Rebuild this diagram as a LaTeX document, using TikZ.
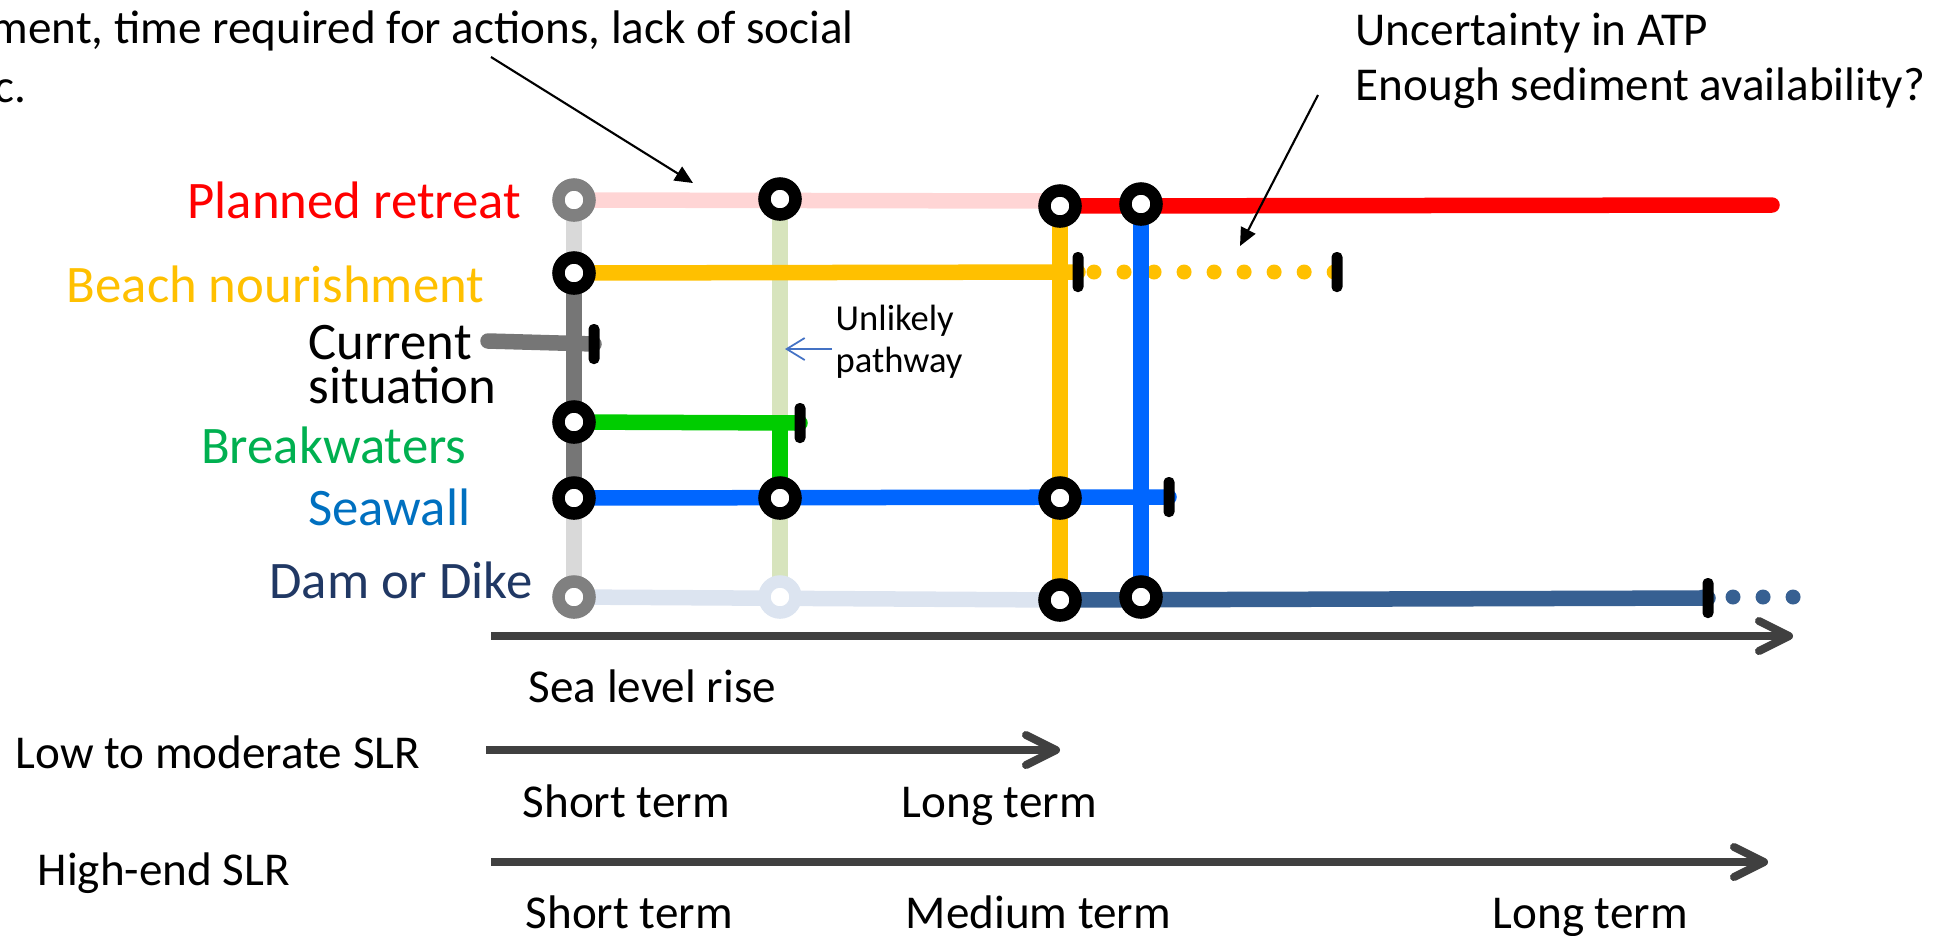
\documentclass[tikz,border=0pt]{standalone}
\usepackage{fontspec}
\setmainfont{Carlito}
\usetikzlibrary{arrows.meta,backgrounds}
\definecolor{retreatRed}{HTML}{FF0000}
\definecolor{pinkPale}{HTML}{FFD5D5}
\definecolor{nourishYellow}{HTML}{FFC000}
\definecolor{greyDark}{HTML}{767676}
\definecolor{greyPale}{HTML}{D9D9D9}
\definecolor{greyRing}{HTML}{808080}
\definecolor{bwGreen}{HTML}{00CC00}
\definecolor{bwText}{HTML}{00B050}
\definecolor{greenPale}{HTML}{D7E4BD}
\definecolor{swBlue}{HTML}{0066FF}
\definecolor{swText}{HTML}{0070C0}
\definecolor{damBlue}{HTML}{376092}
\definecolor{damPale}{HTML}{DCE4F0}
\definecolor{damText}{HTML}{203864}
\definecolor{axisGrey}{HTML}{404040}
\definecolor{hintBlue}{HTML}{4472C4}

\begin{document}
\begin{tikzpicture}[x=0.01cm, y=-0.01cm,
  station/.style={circle, draw=black, fill=white, line width=0.125cm, minimum size=0.31cm, inner sep=0pt},
  stopbar/.style={rectangle, fill=black, rounded corners=0.05cm, minimum width=0.11cm, minimum height=0.4cm, inner sep=0pt},
  track/.style={line width=0.155cm, line cap=round},
  dotline/.style={line width=0.15cm, line cap=round, dash pattern=on 0pt off 0.3cm},
  lane/.style={font=\fontsize{15}{18}\selectfont, inner sep=0pt, anchor=base east},
  txt/.style={font=\fontsize{13.4}{16}\selectfont, inner sep=0pt, anchor=base west},
  slr/.style={-{Straight Barb[length=3mm,width=3mm,round]}, line width=0.08cm, axisGrey},
  note/.style={-{Triangle[length=1.8mm,width=1.6mm]}, line width=0.6pt}]
\useasboundingbox (0,0) rectangle (1939,935);

% stations: columns at x = 574, 780, 1060, 1141
\node[station, draw=greyRing] (prA) at (574,200) {};
\node[station] (prB) at (780,199) {};
\node[station] (prC) at (1060,206) {};
\node[station] (prD) at (1141,204) {};
\node[station] (bnA) at (574,273) {};
\node[station] (bwA) at (574,422) {};
\node[station] (swA) at (574,498) {};
\node[station] (swB) at (780,498) {};
\node[station] (swC) at (1060,498) {};
\node[station, draw=greyRing] (ddA) at (574,597) {};
\node[station, draw=damPale] (ddB) at (780,597) {};
\node[station] (ddC) at (1060,600) {};
\node[station] (ddD) at (1141,597) {};

% end of a route
\node[stopbar] (bnStop) at (1078,272) {};
\node[stopbar] (bnEnd) at (1337,272) {};
\node[stopbar] (csStop) at (594,344) {};
\node[stopbar] (bwStop) at (800,423) {};
\node[stopbar] (swStop) at (1169,497) {};
\node[stopbar] (ddStop) at (1708,598) {};

\coordinate (csStart) at (488,341);
\coordinate (prEnd) at (1772,205);
\coordinate (prFade) at (1060,201);
\coordinate (bwB) at (780,424);
\coordinate (bnDots) at (1064,272);
\coordinate (ddDots) at (1703,597);
\coordinate (ddDotsEnd) at (1794,597);

\begin{scope}[on background layer]
  % faded segments
  \draw[track, pinkPale] (prA.center) -- (prFade);
  \draw[track, greyPale] (prA.center) -- (bnA.center);
  \draw[track, greyPale] (swA.center) -- (ddA.center);
  \draw[track, greenPale] (prB.center) -- (bwB);
  \draw[track, greenPale] (swB.center) -- (ddB.center);
  \draw[track, damPale] (ddA.center) -- (ddC.center);
  % routes
  \draw[track, greyDark] (bnA.center) -- (swA.center);
  \draw[track, greyDark] (csStart) -- (csStop.center);
  \draw[track, nourishYellow] (bnA.center) -- (bnStop.center);
  \draw[dotline, nourishYellow] (bnDots) -- (bnEnd.center);
  \draw[track, bwGreen] (bwA.center) -- (bwStop.center);
  \draw[track, bwGreen] (bwB) -- (swB.center);
  \draw[track, swBlue] (swA.center) -- (swStop.center);
  \draw[track, damBlue] (ddC.center) -- (ddStop.center);
  \draw[dotline, damBlue] (ddDots) -- (ddDotsEnd);
  \draw[track, retreatRed] (prC.center) -- (prEnd);
  \draw[track, nourishYellow] (prC.center) -- (ddC.center);
  \draw[track, swBlue] (prD.center) -- (ddD.center);
\end{scope}

% route names
\node[lane, text=retreatRed] (lblPr) at (522,218) {Planned retreat};
\node[lane, text=nourishYellow] (lblBn) at (485,302) {Beach nourishment};
\node[lane, anchor=base west] (lblCs1) at (308,359) {Current};
\node[lane, anchor=base west] (lblCs2) at (308,403) {situation};
\node[lane, text=bwText] (lblBw) at (467,463) {Breakwaters};
\node[lane, text=swText] (lblSw) at (471,525) {Seawall};
\node[lane, text=damText] (lblDd) at (533,598) {Dam or Dike};

% unlikely pathway hint
\node[txt, font=\fontsize{10.4}{12}\selectfont] (unl1) at (835,330) {Unlikely};
\node[txt, font=\fontsize{10.4}{12}\selectfont] (unl2) at (835,372) {pathway};
\coordinate (unlFrom) at (832,349);
\coordinate (unlTo) at (785,349);
\draw[-{Straight Barb[length=1.8mm,width=2.2mm]}, line width=0.5pt, hintBlue] (unlFrom) -- (unlTo);

% notes at the top
\node[txt] (noteL1) at (-10,43) {ment, time required for actions, lack of social};
\node[txt] (noteL2) at (-6,102) {c.};
\node[txt] (noteR1) at (1355,45) {Uncertainty in ATP};
\node[txt] (noteR2) at (1355,100) {Enough sediment availability?};
\coordinate (noteLfrom) at (491,57);
\coordinate (noteLto) at (693,183);
\coordinate (noteRfrom) at (1318,95);
\coordinate (noteRto) at (1240,246);
\draw[note] (noteLfrom) -- (noteLto);
\draw[note] (noteRfrom) -- (noteRto);

% sea level rise scales
\coordinate (axS) at (491,636);
\coordinate (axE) at (1793,636);
\coordinate (lowS) at (486,750);
\coordinate (lowE) at (1060,750);
\coordinate (highS) at (491,862);
\coordinate (highE) at (1768,862);
\draw[slr] (axS) -- (axE);
\draw[slr] (lowS) -- (lowE);
\draw[slr] (highS) -- (highE);
\node[txt] (slr) at (528,702) {Sea level rise};
\node[txt] (low) at (15,768) {Low to moderate SLR};
\node[txt] (lowShort) at (522,817) {Short term};
\node[txt] (lowLong) at (901,817) {Long term};
\node[txt] (high) at (37,885) {High-end SLR};
\node[txt] (highShort) at (525,928) {Short term};
\node[txt] (highMed) at (905,928) {Medium term};
\node[txt] (highLong) at (1492,928) {Long term};
\end{tikzpicture}
\end{document}
